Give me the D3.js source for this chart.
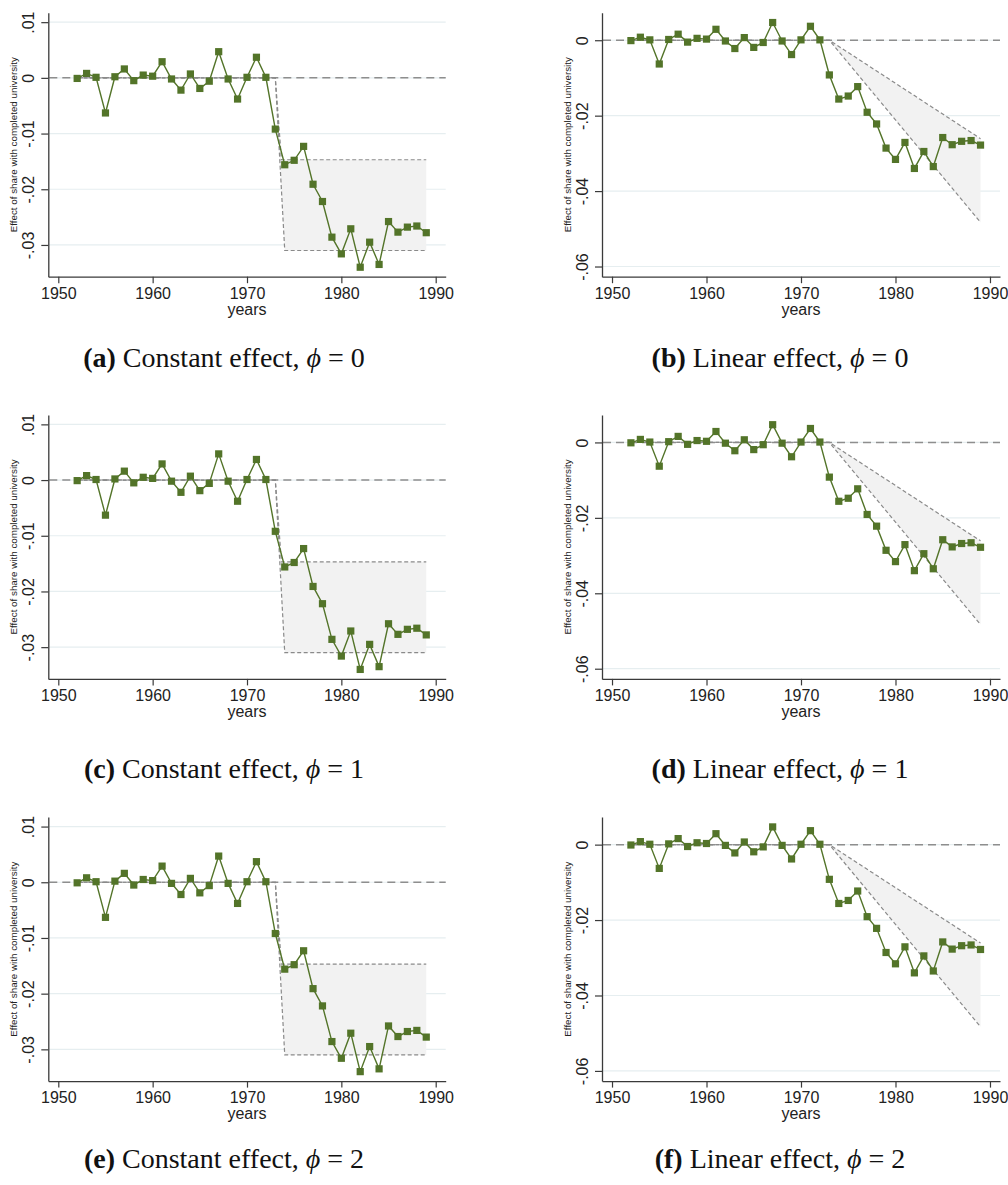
<!DOCTYPE html>
<html>
<head>
<meta charset="utf-8">
<script src="https://cdn.jsdelivr.net/npm/d3@7"></script>
<style>
  html, body { margin: 0; padding: 0; background: #fff; }
  svg { display: block; }
</style>
</head>
<body>
<svg id="chart" width="1008" height="1185"></svg>
<script>
// ---------------- data ----------------
const years = [1952, 1953, 1954, 1955, 1956, 1957, 1958, 1959, 1960, 1961,
               1962, 1963, 1964, 1965, 1966, 1967, 1968, 1969, 1970, 1971,
               1972, 1973, 1974, 1975, 1976, 1977, 1978, 1979, 1980, 1981,
               1982, 1983, 1984, 1985, 1986, 1987, 1988, 1989];
const effects = [-0.0001, 0.0008, 0.0001, -0.0063, 0.0002, 0.0016, -0.0005, 0.0005, 0.0003, 0.0029,
                 -0.0002, -0.0022, 0.0007, -0.0019, -0.0006, 0.0047, -0.0002, -0.0038, 0.0001, 0.0037,
                 0.0001, -0.0092, -0.0156, -0.0148, -0.0123, -0.0191, -0.0222, -0.0286, -0.0316, -0.0271,
                 -0.0340, -0.0295, -0.0335, -0.0258, -0.0277, -0.0268, -0.0266, -0.0278];

// constant-effect band
const constUpperYears = [1952, 1973, 1973.65, 1989];
const constUpper = [0, 0, -0.0147, -0.0147];
const constLowerYears = [1952, 1973, 1974, 1989];
const constLower = [0, 0, -0.0310, -0.0310];
// linear-effect band
const linYears = [1952, 1973, 1989];
const linUpper = [0, 0, -0.0261];
const linLower = [0, 0, -0.0483];

const xTicks = [1950, 1960, 1970, 1980, 1990];
const constYTicks = [0.01, 0, -0.01, -0.02, -0.03];
const constYLabels = [".01", "0", "-.01", "-.02", "-.03"];
const linYTicks = [0, -0.02, -0.04, -0.06];
const linYLabels = ["0", "-.02", "-.04", "-.06"];

const panelLetters = [["a", "b"], ["c", "d"], ["e", "f"]];
const panelTitles = ["Constant effect, ", "Linear effect, "];
const phiValues = ["0", "1", "2"];
const yTitle = "Effect of share with completed university";
const xTitle = "years";

// ---------------- layout / style ----------------
const green = "#537429";
const axisColor = "#3a3a3a";
const gridColor = "#e6eef0";
const refColor = "#8e8e8e";
const bandColor = "#8a8a8a";
const fillColor = "#f2f2f2";
const sans = "'Liberation Sans', Arial, sans-serif";
const serif = "'Liberation Serif', 'Times New Roman', serif";

const rowStep = 402.2;
const colDefs = [
  { left: 48.3, right: 445.7, domain: [-0.0357, 0.0117], ticks: constYTicks, labels: constYLabels,
    ux: constUpperYears, uv: constUpper, lx: constLowerYears, lv: constLower, capX: 224 },
  { left: 602, right: 1000, domain: [-0.0627, 0.0073], ticks: linYTicks, labels: linYLabels,
    ux: linYears, uv: linUpper, lx: linYears, lv: linLower, capX: 780 }
];
const captionBaselines = [367, 778, 1168];

const svg = d3.select("#chart");

for (let r = 0; r < 3; r++) {
  for (let c = 0; c < 2; c++) {
    const cd = colDefs[c];
    const top = 12.7 + r * rowStep;
    const bottom = 276.7 + r * rowStep;
    const x = d3.scaleLinear().domain([1948.94, 1991.06]).range([cd.left, cd.right]);
    const y = d3.scaleLinear().domain(cd.domain).range([bottom, top]);
    const g = svg.append("g");

    // gridlines
    g.append("g").selectAll("line").data(cd.ticks).join("line")
      .attr("x1", cd.left).attr("x2", cd.right)
      .attr("y1", d => y(d)).attr("y2", d => y(d))
      .attr("stroke", gridColor).attr("stroke-width", 1.2);

    // band fill
    const upper = cd.ux.map((yr, i) => ({ yr, v: cd.uv[i] }));
    const lower = cd.lx.map((yr, i) => ({ yr, v: cd.lv[i] }));
    const lineGen = d3.line().x(d => x(d.yr)).y(d => y(d.v));
    g.append("path")
      .attr("d", lineGen(upper.concat(lower.slice().reverse())) + "Z")
      .attr("fill", fillColor).attr("stroke", "none");

    // reference zero line
    g.append("line")
      .attr("x1", cd.left + 1).attr("x2", cd.right)
      .attr("y1", y(0)).attr("y2", y(0))
      .attr("stroke", refColor).attr("stroke-width", 1.5)
      .attr("stroke-dasharray", "8,5");

    // band lines
    [upper, lower].forEach(b => {
      g.append("path").datum(b)
        .attr("d", lineGen)
        .attr("fill", "none").attr("stroke", bandColor).attr("stroke-width", 1.2)
        .attr("stroke-dasharray", "4,2.5");
    });

    // series line
    const pts = years.map((yr, i) => ({ yr, v: effects[i] }));
    g.append("path").datum(pts)
      .attr("d", lineGen)
      .attr("fill", "none").attr("stroke", green).attr("stroke-width", 1.4);
    g.append("g").selectAll("rect").data(pts).join("rect")
      .attr("x", d => x(d.yr) - 3.6).attr("y", d => y(d.v) - 3.6)
      .attr("width", 7.2).attr("height", 7.2).attr("fill", green);

    // y axis
    const ya = g.append("g").attr("transform", `translate(${cd.left},0)`)
      .call(d3.axisLeft(y).tickValues(cd.ticks).tickSize(7).tickSizeOuter(0)
        .tickFormat((d, i) => cd.labels[i]));
    ya.select(".domain").attr("stroke", axisColor).attr("stroke-width", 1.3);
    ya.selectAll(".tick line").attr("stroke", axisColor).attr("stroke-width", 1.2);
    ya.selectAll(".tick text")
      .attr("x", null).attr("dy", null)
      .attr("transform", "translate(-14.5,0) rotate(-90)")
      .attr("text-anchor", "middle")
      .attr("fill", "#222").style("font-family", sans).style("font-size", "16px");

    // x axis
    const xa = g.append("g").attr("transform", `translate(0,${bottom})`)
      .call(d3.axisBottom(x).tickValues(xTicks).tickSize(6.5).tickSizeOuter(0)
        .tickFormat(d3.format("d")));
    xa.select(".domain").attr("stroke", axisColor).attr("stroke-width", 1.3);
    xa.selectAll(".tick line").attr("stroke", axisColor).attr("stroke-width", 1.2);
    xa.selectAll(".tick text")
      .attr("y", 22.4).attr("dy", null)
      .attr("fill", "#222").style("font-family", sans).style("font-size", "16px");

    // axis titles
    g.append("text")
      .attr("transform", `translate(${cd.left - 31.3},${(top + bottom) / 2}) rotate(-90)`)
      .attr("text-anchor", "middle")
      .attr("fill", "#222").style("font-family", sans).style("font-size", "9.8px")
      .text(yTitle);
    g.append("text")
      .attr("x", (cd.left + cd.right) / 2).attr("y", bottom + 38.3)
      .attr("text-anchor", "middle")
      .attr("fill", "#222").style("font-family", sans).style("font-size", "16px")
      .text(xTitle);

    // caption
    const cap = svg.append("text")
      .attr("x", cd.capX).attr("y", captionBaselines[r])
      .attr("text-anchor", "middle")
      .attr("fill", "#111").style("font-family", serif).style("font-size", "28px");
    cap.append("tspan").style("font-weight", "bold").text(`(${panelLetters[r][c]})`);
    cap.append("tspan").text(" " + panelTitles[c]);
    cap.append("tspan").style("font-style", "italic").text("\u03D5");
    cap.append("tspan").text("\u2005=\u2005" + phiValues[r]);
  }
}
</script>
</body>
</html>
